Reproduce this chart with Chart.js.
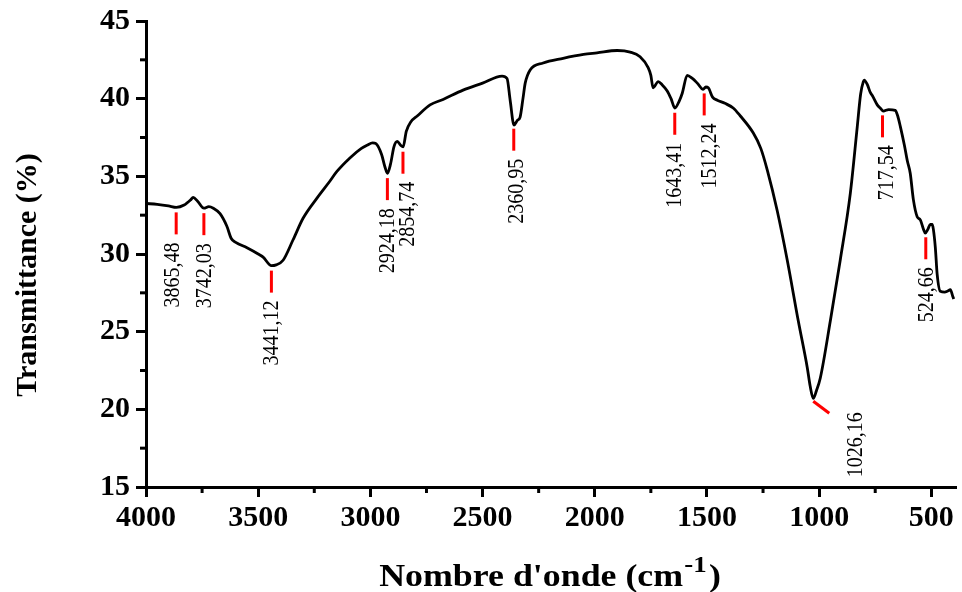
<!DOCTYPE html>
<html lang="fr">
<head>
<meta charset="UTF-8">
<title>Spectre IR</title>
<style>
    body{ margin:0; background:#fff; }
    #box{ width:962px; height:592px; }
</style>
</head>
<body>
<div id="box"><canvas id="irChart" width="962" height="592"></canvas></div>
<script src="https://cdn.jsdelivr.net/npm/chart.js"></script>
<script>
var wn = [4000,3950,3900,3865,3830,3800,3790,3770,3742,3720,3700,3670,3640,3620,3600,3550,3500,3478,3441,3420,3389,3345,3300,3238,3180,3150,3090,3040,3015,2990,2975,2950,2935,2924,2910,2895,2880,2865,2854,2840,2820,2790,2734,2676,2587,2500,2413,2391,2377,2360,2345,2333,2320,2310,2288,2230,2141,2050,1990,1900,1842,1798,1762,1750,1740,1717,1700,1677,1660,1643,1625,1610,1588,1565,1543,1517,1505,1494,1475,1454,1420,1383,1352,1294,1260,1231,1187,1142,1093,1053,1040,1026,1012,995,950,906,861,830,815,803,799,785,772,763,741,725,714,690,661,650,638,620,607,594,580,563,549,535,527,515,505,496,491,482,474,460,440,429,415,405,400];
var trans = [33.25,33.2,33.1,33.0,33.15,33.5,33.65,33.4,32.95,33.05,32.95,32.6,31.8,31.0,30.75,30.4,30.0,29.8,29.25,29.3,29.6,30.9,32.3,33.6,34.7,35.3,36.2,36.8,37.0,37.15,37.1,36.4,35.6,35.2,35.8,36.9,37.25,37.0,36.9,37.9,38.5,38.9,39.6,39.95,40.55,41.0,41.45,41.3,39.9,38.3,38.6,38.8,40.0,41.0,41.85,42.3,42.6,42.85,42.95,43.1,43.0,42.7,42.0,41.5,40.7,41.1,40.9,40.5,40.0,39.4,39.8,40.35,41.5,41.3,41.0,40.6,40.75,40.7,40.1,39.9,39.7,39.4,38.9,37.8,36.8,35.4,32.8,29.6,25.7,22.7,21.5,20.7,21.2,22.0,25.7,29.6,33.9,38.2,40.3,41.1,41.2,40.9,40.4,40.2,39.6,39.35,39.2,39.3,39.25,38.9,38.2,37.0,36.0,35.2,33.5,32.4,32.2,31.6,31.35,31.6,31.9,31.9,31.6,30.4,28.7,27.6,27.55,27.6,27.7,27.3,27.1];

var xTicks = [4000,3500,3000,2500,2000,1500,1000,500];
var xMinor = [3750,3250,2750,2250,1750,1250,750];
var yTicks = [15,20,25,30,35,40,45];
var yMinor = [17.5,22.5,27.5,32.5,37.5,42.5];

var peakWn = [3865.48,3742.03,3441.12,2924.18,2854.74,2360.95,1643.41,1512.24,1026.16,717.54,524.66];
var peakLabels = ['3865,48','3742,03','3441,12','2924,18','2854,74','2360,95','1643,41','1512,24','1026,16','717,54','524,66'];
var labelShift = [-3,1,0,0,5,3,0,6,0,4,1];//petit decalage du texte

var points = wn.map(function(v,i){ return {x:v, y:trans[i]}; });

function curveAt(w){//valeur du spectre a w (pour placer les reperes)
    for (var i=0;i<wn.length-1;i++){
        if (w<=wn[i] && w>=wn[i+1]){
            var t = (wn[i]-w)/(wn[i]-wn[i+1]);
            return trans[i]+(trans[i+1]-trans[i])*t;
        }
    }
    return trans[trans.length-1];
}

var serif = '"Liberation Serif", "Times New Roman", serif';

var extras = {
    id:'extras',
    afterDraw: function(chart){
        var ctx = chart.ctx;
        var xs = chart.scales.x, ys = chart.scales.y;
        var a = chart.chartArea;
        ctx.save();
        // petites graduations
        ctx.strokeStyle = '#000';
        ctx.lineWidth = 3;
        xMinor.forEach(function(v){
            var px = xs.getPixelForValue(v);
            ctx.beginPath(); ctx.moveTo(px,a.bottom); ctx.lineTo(px,a.bottom+6); ctx.stroke();
        });
        yMinor.forEach(function(v){
            var py = ys.getPixelForValue(v);
            ctx.beginPath(); ctx.moveTo(a.left,py); ctx.lineTo(a.left-6,py); ctx.stroke();
        });
        // reperes des pics
        for (var i=0;i<peakWn.length;i++){
            var px = xs.getPixelForValue(peakWn[i]);
            var py = ys.getPixelForValue(curveAt(peakWn[i]));
            ctx.strokeStyle = '#ff0000';
            ctx.lineWidth = 3;
            ctx.beginPath();
            var tx, ty;
            if (peakLabels[i]=='1026,16'){
                ctx.moveTo(px,py+3); ctx.lineTo(px+16,py+15);
                tx = px+42; ty = py+14;
            } else {
                ctx.moveTo(px,py+5); ctx.lineTo(px,py+27);
                tx = px+labelShift[i]; ty = py+35;
            }
            ctx.stroke();
            ctx.save();
            ctx.translate(tx,ty);
            ctx.rotate(-Math.PI/2);
            ctx.scale(1,1.2);
            ctx.fillStyle = '#000';
            ctx.font = '20px '+serif;
            ctx.textAlign = 'right';
            ctx.textBaseline = 'middle';
            ctx.fillText(peakLabels[i],0,0);
            ctx.restore();
        }
        // titres des axes
        ctx.fillStyle = '#000';
        ctx.save();
        ctx.translate(28,275);
        ctx.rotate(-Math.PI/2);
        ctx.font = 'bold 30px '+serif;
        ctx.textAlign = 'center';
        ctx.textBaseline = 'middle';
        ctx.fillText('Transmittance (%)',0,0);
        ctx.restore();

        var t1 = "Nombre d'onde (cm", sup = '-1', t2 = ')';
        ctx.save();
        ctx.translate(550,586);
        ctx.scale(1.12,1);
        ctx.font = 'bold 32px '+serif;
        var w1 = ctx.measureText(t1).width, w3 = ctx.measureText(t2).width;
        ctx.font = 'bold 24px '+serif;
        var w2 = ctx.measureText(sup).width;
        var x0 = -(w1+w2+w3+3)/2;
        ctx.textAlign = 'left';
        ctx.textBaseline = 'alphabetic';
        ctx.font = 'bold 32px '+serif;
        ctx.fillText(t1,x0,0);
        ctx.font = 'bold 24px '+serif;
        ctx.fillText(sup,x0+w1+1,-14);
        ctx.font = 'bold 32px '+serif;
        ctx.fillText(t2,x0+w1+w2+3,0);
        ctx.restore();
        ctx.restore();
    }
};

var chart = new Chart(document.getElementById('irChart').getContext('2d'), {
    type:'line',
    data:{
        datasets:[{
            label:'IR',
            data:points,
            borderColor:'#000',
            borderWidth:2.8,
            pointRadius:0,
            fill:false,
            cubicInterpolationMode:'monotone'
        }]
    },
    options:{
        responsive:false,
        animation:false,
        layout:{ padding:{ left:0, top:21, right:6, bottom:0 } },
        plugins:{ legend:{display:false}, tooltip:{enabled:false} },
        scales:{
            x:{
                type:'linear',
                reverse:true,
                min:390,
                max:4000,
                afterBuildTicks:function(s){ s.ticks = xTicks.map(function(v){return {value:v};}); },
                afterFit:function(s){ s.height = 105; s.paddingRight = 0; s.paddingLeft = 0; },
                border:{ display:true, color:'#000', width:3 },
                grid:{ drawOnChartArea:false, drawTicks:true, tickLength:10, tickWidth:3, tickColor:'#000' },
                ticks:{ color:'#000', padding:3, maxRotation:0, autoSkip:false, callback:function(v){ return String(v); }, font:{ family:serif, size:30, weight:'bold' } }
            },
            y:{
                min:15,
                max:45,
                afterBuildTicks:function(s){ s.ticks = yTicks.map(function(v){return {value:v};}); },
                afterFit:function(s){ s.width = 146; s.paddingTop = 0; s.paddingBottom = 0; },
                border:{ display:true, color:'#000', width:3 },
                grid:{ drawOnChartArea:false, drawTicks:true, tickLength:10, tickWidth:3, tickColor:'#000' },
                ticks:{ color:'#000', padding:6, callback:function(v){ return String(v); }, font:{ family:serif, size:30, weight:'bold' } }
            }
        }
    },
    plugins:[extras]
});
</script>
</body>
</html>
